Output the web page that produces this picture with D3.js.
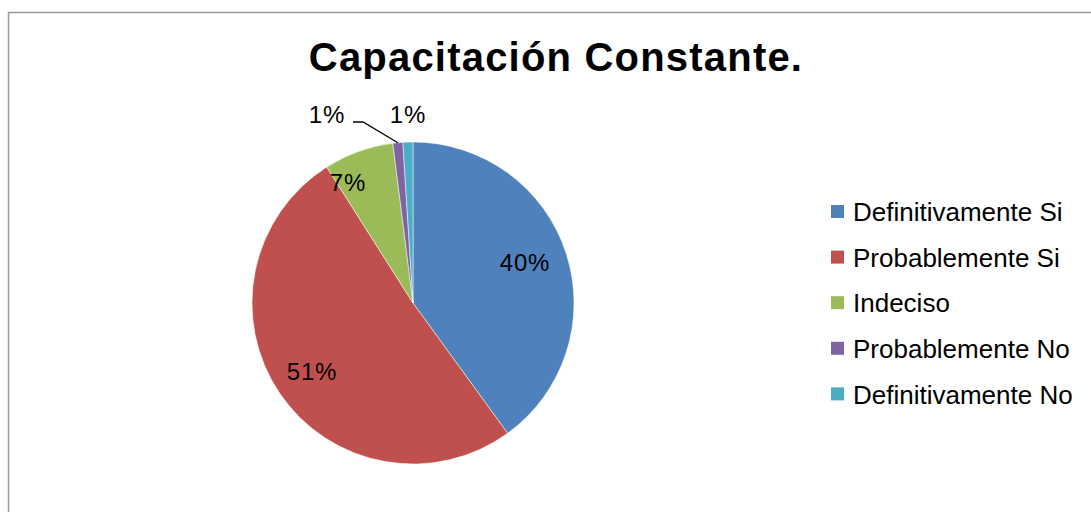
<!DOCTYPE html>
<html>
<head>
<meta charset="utf-8">
<script src="https://cdn.jsdelivr.net/npm/d3@7"></script>
<style>
body{margin:0;background:#fff}
text{font-family:"Liberation Sans",Arial,sans-serif}
</style>
</head>
<body>
<svg id="main_svg" width="1091" height="512"></svg>
<script>
let categories = ["Definitivamente Si","Probablemente Si","Indeciso","Probablemente No","Definitivamente No"]
let values = [40,51,7,1,1]
let labels = ["40%","51%","7%","1%","1%"]
let colors = ["#4f81bd","#c0504d","#9bbb59","#8064a2","#4bacc6"]

let svg = d3.select("#main_svg")

// chart frame
svg.append("rect")
    .attr("x", 8.5).attr("y", 12.5)
    .attr("width", 1100).attr("height", 520)
    .attr("fill", "white")
    .attr("stroke", "#9a9a9a")
    .attr("stroke-width", 1.5)

svg.append("text")
    .attr("x", 556).attr("y", 71)
    .attr("text-anchor", "middle")
    .attr("font-size", 40)
    .attr("font-weight", "bold")
    .attr("letter-spacing", 1.2)
    .text("Capacitación Constante.")

let cx = 413, cy = 303, r = 161

let pie = d3.pie().sort(null).value(d => d)
let arcs = pie(values)
let arc = d3.arc().innerRadius(0).outerRadius(r)

let g = svg.append("g").attr("transform", "translate(" + cx + "," + cy + ")")

g.selectAll("path")
    .data(arcs)
    .enter()
    .append("path")
    .attr("d", arc)
    .attr("fill", (d, i) => colors[i])
    .attr("stroke", "white")
    .attr("stroke-width", 0.5)

// label positions (relative to centre)
let label_pos = [[112, -40], [-101, 69], [-65, -120], [-86, -188], [-5, -188]]
g.selectAll("text.lbl")
    .data(arcs)
    .enter()
    .append("text")
    .attr("class", "lbl")
    .attr("x", (d, i) => label_pos[i][0])
    .attr("y", (d, i) => label_pos[i][1])
    .attr("text-anchor", "middle")
    .attr("dy", "0.35em")
    .attr("font-size", 24)
    .attr("letter-spacing", 0.8)
    .text((d, i) => labels[i])

// leader line for the purple slice
let a = (arcs[3].startAngle + arcs[3].endAngle) / 2
let px = Math.sin(a) * r, py = -Math.cos(a) * r
g.append("polyline")
    .attr("points", [[-60, -181], [-50, -181], [px, py]].map(p => p.join(",")).join(" "))
    .attr("fill", "none")
    .attr("stroke", "black")
    .attr("stroke-width", 1.3)

let legend = svg.append("g")
let row = legend.selectAll("g")
    .data(categories)
    .enter()
    .append("g")
    .attr("transform", (d, i) => "translate(831," + (212 + i * 45.6) + ")")
row.append("rect")
    .attr("x", 0).attr("y", -7)
    .attr("width", 13).attr("height", 13)
    .attr("fill", (d, i) => colors[i])
row.append("text")
    .attr("x", 22).attr("y", 0)
    .attr("dy", "0.35em")
    .attr("font-size", 26)
    .text(d => d)
</script>
</body>
</html>
